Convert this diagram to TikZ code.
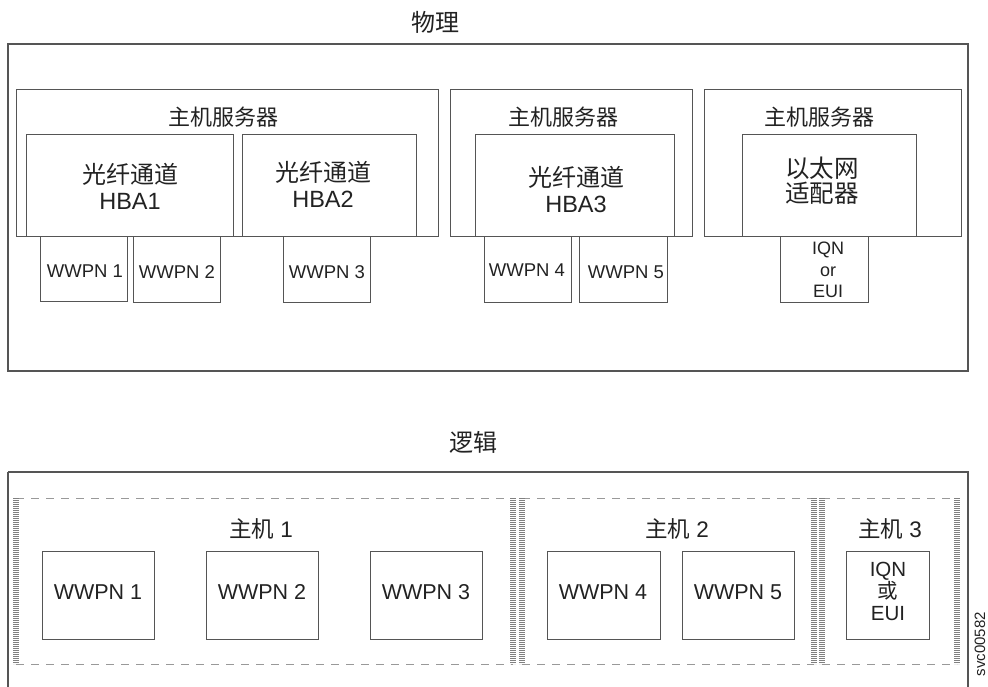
\documentclass[tikz,border=0pt]{standalone}
\usepackage{fontspec}
\setmainfont{Liberation Sans}
\newfontfamily\cjk{Noto Sans CJK SC}
\definecolor{boxline}{HTML}{555555}
\definecolor{txt}{HTML}{222222}
\definecolor{dashcol}{HTML}{999999}
\definecolor{barcol}{HTML}{808080}
\begin{document}
\begin{tikzpicture}[x=1pt,y=-1pt,
  frame/.style={draw=boxline,line width=1.1pt},
  boxr/.style={draw=boxline,line width=0.9pt},
  lbl/.style={text=txt,inner sep=0pt,align=center},
  dashline/.style={draw=dashcol,line width=1pt,dash pattern=on 8pt off 7pt},
  bar/.style={draw=barcol,line width=6pt,dash pattern=on 1.3pt off 0.7pt}]
\useasboundingbox (0,0) rectangle (988,687);
\fill[white] (0,0) rectangle (988,687);
% titles
\node[lbl,font=\cjk\fontsize{24}{26}\selectfont] (tphys) at (435,22) {物理};
\node[lbl,font=\cjk\fontsize{24}{26}\selectfont] (tlog) at (473,442) {逻辑};
% physical outer
\draw[frame] (8,44) rectangle (968,371);
% host servers
\draw[boxr] (16,89) rectangle (438,236);
\draw[boxr] (450,89) rectangle (692,236);
\draw[boxr] (704,89) rectangle (961,236);
\node[lbl,font=\cjk\fontsize{22}{24}\selectfont] (hs1) at (223,117) {主机服务器};
\node[lbl,font=\cjk\fontsize{22}{24}\selectfont] (hs2) at (563,117) {主机服务器};
\node[lbl,font=\cjk\fontsize{22}{24}\selectfont] (hs3) at (819,117) {主机服务器};
% adapters
\draw[boxr,fill=white] (26,134) rectangle (233,236);
\draw[boxr,fill=white] (242,134) rectangle (416,236);
\draw[boxr,fill=white] (475,134) rectangle (674,236);
\draw[boxr,fill=white] (742,134) rectangle (916,236);
\node[lbl,font=\fontsize{23.5}{26}\selectfont] (hba1) at (130,186) {{\cjk\fontsize{24}{26}\selectfont 光纤通道}\\HBA1};
\node[lbl,font=\fontsize{23.5}{26}\selectfont] (hba2) at (323,184) {{\cjk\fontsize{24}{26}\selectfont 光纤通道}\\HBA2};
\node[lbl,font=\fontsize{23.5}{26}\selectfont] (hba3) at (576,189) {{\cjk\fontsize{24}{26}\selectfont 光纤通道}\\HBA3};
\node[lbl,font=\cjk\fontsize{24.5}{25}\selectfont] (eth) at (822,181) {以太网\\适配器};
% ports
\draw[boxr] (40,236) rectangle (127,301);
\draw[boxr] (133,236) rectangle (220,302);
\draw[boxr] (283,236) rectangle (370,302);
\draw[boxr] (484,236) rectangle (571,302);
\draw[boxr] (579,236) rectangle (667,302);
\draw[boxr] (780,236) rectangle (868,302);
\node[lbl,font=\fontsize{18.5}{20}\selectfont] (pw1) at (85,271) {WWPN 1};
\node[lbl,font=\fontsize{18.5}{20}\selectfont] (pw2) at (177,272) {WWPN 2};
\node[lbl,font=\fontsize{18.5}{20}\selectfont] (pw3) at (327,272) {WWPN 3};
\node[lbl,font=\fontsize{18.5}{20}\selectfont] (pw4) at (527,270) {WWPN 4};
\node[lbl,font=\fontsize{18.5}{20}\selectfont] (pw5) at (626,272) {WWPN 5};
\node[lbl,font=\fontsize{18}{21.5}\selectfont] (piqn) at (828,270) {IQN\\or\\EUI};
% logical outer
\draw[frame] (8,472) -- (8,700) (8,472) -- (968,472) -- (968,700);
% groups: dashed top/bottom
\draw[dashline] (16,498) -- (513,498) (16,664) -- (513,664);
\draw[dashline] (522,498) -- (814,498) (522,664) -- (814,664);
\draw[dashline] (822,498) -- (957,498) (822,664) -- (957,664);
% bars
\draw[bar] (16,498) -- (16,664);
\draw[bar] (513,498) -- (513,664);
\draw[bar] (522,498) -- (522,664);
\draw[bar] (814,498) -- (814,664);
\draw[bar] (822,498) -- (822,664);
\draw[bar] (957,498) -- (957,664);
% host labels
\node[lbl,font=\fontsize{22.5}{24}\selectfont] (h1) at (261,529) {{\cjk 主机} 1};
\node[lbl,font=\fontsize{22.5}{24}\selectfont] (h2) at (677,529) {{\cjk 主机} 2};
\node[lbl,font=\fontsize{22.5}{24}\selectfont] (h3) at (890,529) {{\cjk 主机} 3};
% logical ports
\draw[boxr] (42,551) rectangle (154,639);
\draw[boxr] (206,551) rectangle (318,639);
\draw[boxr] (370,551) rectangle (482,639);
\draw[boxr] (547,551) rectangle (660,639);
\draw[boxr] (682,551) rectangle (794,639);
\draw[boxr] (846,551) rectangle (929,639);
\node[lbl,font=\fontsize{21.5}{23}\selectfont] (lw1) at (98,592) {WWPN 1};
\node[lbl,font=\fontsize{21.5}{23}\selectfont] (lw2) at (262,592) {WWPN 2};
\node[lbl,font=\fontsize{21.5}{23}\selectfont] (lw3) at (426,592) {WWPN 3};
\node[lbl,font=\fontsize{21.5}{23}\selectfont] (lw4) at (603,592) {WWPN 4};
\node[lbl,font=\fontsize{21.5}{23}\selectfont] (lw5) at (738,592) {WWPN 5};
\node[lbl,font=\fontsize{20.5}{22}\selectfont] (liqn) at (888,591) {IQN\\{\cjk 或}\\EUI};
% figure id
\node[lbl,rotate=90,anchor=base east,font=\fontsize{15}{18}\selectfont] (fid) at (985,612) {svc00582};
\end{tikzpicture}
\end{document}
